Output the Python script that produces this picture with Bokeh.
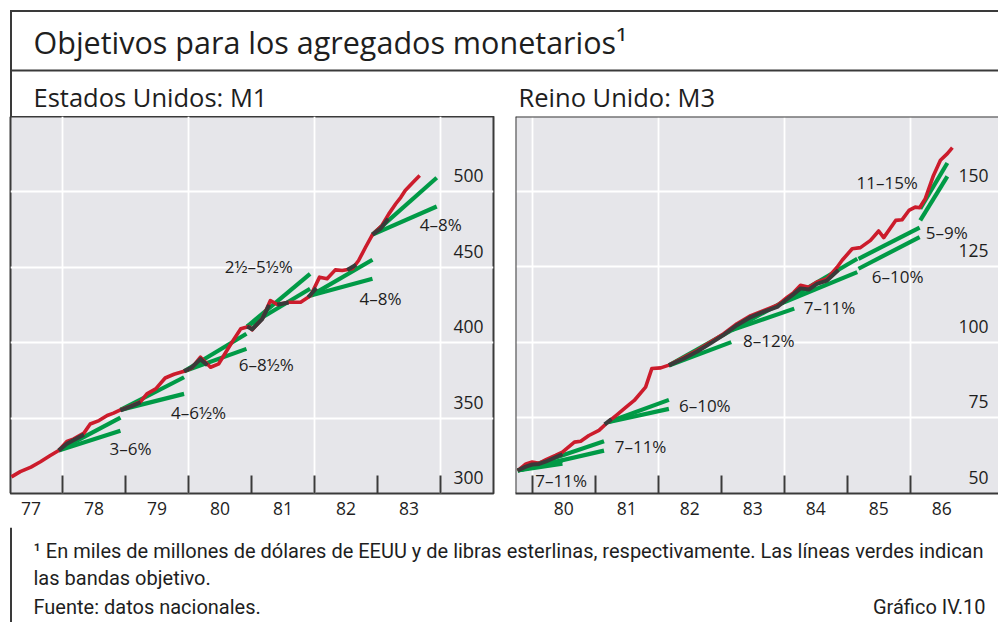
from bokeh.plotting import figure
from bokeh.models import Range1d, FixedTicker, Grid, Span
from bokeh.layouts import column, row
from bokeh.core.properties import value
from bokeh.embed import file_html
from bokeh.resources import INLINE

# ---------------- data: United States M1 (bn US$) ----------------
us_year = [1977.19, 1977.33, 1977.50, 1977.65, 1977.80, 1977.94, 1978.07, 1978.18, 1978.34, 1978.44,
           1978.58, 1978.71, 1978.81, 1978.92, 1979.08, 1979.24, 1979.34, 1979.48, 1979.63, 1979.77,
           1979.93, 1980.05, 1980.19, 1980.35, 1980.48, 1980.69, 1980.83, 1980.96, 1981.01, 1981.17,
           1981.30, 1981.41, 1981.59, 1981.78, 1981.94, 1982.08, 1982.20, 1982.33, 1982.44, 1982.60,
           1982.70, 1982.81, 1982.92, 1983.07, 1983.18, 1983.29, 1983.37, 1983.44, 1983.58, 1983.67]
us_m1 = [311.0, 314.5, 317.5, 321.0, 325.0, 328.5, 334.5, 336.2, 340.0, 346.0,
         348.3, 351.7, 353.2, 355.4, 357.8, 360.8, 366.0, 369.3, 376.5, 379.0,
         381.0, 383.0, 390.3, 383.6, 385.9, 400.2, 409.1, 410.6, 408.4, 415.7,
         427.8, 425.2, 426.7, 426.7, 431.1, 443.3, 442.2, 448.1, 447.7, 448.8,
         454.3, 463.1, 471.5, 477.5, 485.2, 491.9, 496.2, 500.7, 506.8, 510.6]

us_dark_x = [[1977.94, 1978.07, 1978.18, 1978.34],
             [1978.92, 1979.08, 1979.24],
             [1979.93, 1980.05, 1980.19, 1980.30],
             [1980.93, 1981.01, 1981.17, 1981.28],
             [1981.41, 1981.59],
             [1981.90, 1982.03],
             [1982.52, 1982.66],
             [1982.92, 1983.05, 1983.17]]
us_dark_y = [[328.5, 333.0, 335.5, 339.0],
             [355.0, 357.5, 360.3],
             [381.0, 383.5, 389.0, 385.0],
             [410.6, 408.8, 415.5, 425.0],
             [425.0, 426.5],
             [430.0, 436.0],
             [448.0, 451.5],
             [471.5, 475.5, 482.0]]

# target bands (start year, start level, end year, end level)
us_t_x0 = [1977.94, 1977.94, 1978.92, 1978.92, 1979.93, 1979.93, 1980.93, 1980.93, 1981.94, 1981.94, 1982.92, 1982.92]
us_t_y0 = [328.5, 328.5, 355.4, 355.4, 381.0, 381.0, 410.6, 410.6, 431.1, 431.1, 471.5, 471.5]
us_t_x1 = [1978.92, 1978.92, 1979.93, 1979.93, 1980.92, 1980.92, 1981.93, 1981.93, 1982.92, 1982.92, 1983.94, 1983.94]
us_t_y1 = [350.3, 341.5, 377.0, 366.0, 405.8, 395.8, 445.5, 435.6, 454.8, 442.2, 509.1, 490.1]

us_lab_txt = ["3–6%", "4–6½%", "6–8½%", "2½–5½%", "4–8%", "4–8%"]
us_lab_x = [1979.08, 1980.16, 1981.235, 1981.116, 1983.048, 1984.005]
us_lab_y = [329.6, 353.6, 385.6, 450.5, 429.3, 478.0]

us_yticks = [300, 350, 400, 450, 500]
us_ygrid = [350, 400, 450, 500]
us_years = [1977, 1978, 1979, 1980, 1981, 1982, 1983]
us_year_labels = ["77", "78", "79", "80", "81", "82", "83"]
us_bounds = [1978, 1979, 1980, 1981, 1982, 1983, 1984]
us_xgrid = [1978, 1980, 1982, 1984]

# ---------------- data: United Kingdom M3 (bn £) ----------------
uk_year = [1979.77, 1979.90, 1980.00, 1980.11, 1980.22, 1980.37, 1980.48, 1980.67, 1980.77, 1980.90,
           1981.06, 1981.20, 1981.33, 1981.49, 1981.62, 1981.80, 1981.90, 1982.04, 1982.17, 1982.41,
           1982.62, 1982.83, 1983.04, 1983.25, 1983.47, 1983.68, 1983.89, 1984.05, 1984.15, 1984.26,
           1984.39, 1984.52, 1984.68, 1984.84, 1984.92, 1985.08, 1985.21, 1985.37, 1985.50, 1985.58,
           1985.77, 1985.87, 1985.98, 1986.08, 1986.15, 1986.24, 1986.37, 1986.48, 1986.59, 1986.67]
uk_m3 = [57.6, 59.8, 60.4, 60.0, 61.2, 62.6, 63.7, 67.0, 67.3, 69.2,
         70.9, 73.6, 75.8, 78.6, 80.8, 85.2, 91.4, 91.6, 92.5, 95.1,
         97.4, 100.1, 102.9, 106.2, 108.9, 110.6, 112.3, 115.0, 116.5, 118.9,
         118.3, 120.0, 121.1, 124.9, 127.2, 131.0, 131.4, 133.8, 136.9, 134.7,
         140.4, 140.6, 143.7, 144.8, 144.6, 147.6, 155.3, 160.3, 162.5, 164.5]

uk_dark_x = [[1979.77, 1979.90, 1980.00, 1980.11, 1980.22, 1980.37, 1980.48],
             [1981.15, 1981.26],
             [1982.17, 1982.41, 1982.62, 1982.83, 1983.04, 1983.25, 1983.47, 1983.68, 1983.89,
              1984.05, 1984.15, 1984.26, 1984.39, 1984.52, 1984.68, 1984.86]]
uk_dark_y = [[57.6, 58.9, 59.6, 59.8, 60.6, 62.0, 63.0],
             [72.9, 74.6],
             [92.4, 94.7, 97.0, 99.7, 102.5, 105.7, 108.4, 110.2, 111.8,
              114.4, 116.0, 117.9, 117.5, 119.4, 120.5, 124.0]]

uk_t_x0 = [1979.77, 1979.77, 1979.77, 1979.77, 1981.20, 1981.20, 1982.17, 1982.17, 1983.16, 1983.16,
           1983.94, 1983.94, 1985.18, 1985.18, 1986.16, 1986.16]
uk_t_y0 = [57.6, 57.6, 57.6, 57.6, 73.6, 73.6, 92.4, 92.4, 104.0, 104.0,
           112.8, 112.8, 127.7, 124.4, 144.3, 140.4]
uk_t_x1 = [1980.48, 1980.48, 1981.14, 1981.14, 1982.17, 1982.17, 1983.16, 1983.16, 1984.16, 1984.16,
           1985.16, 1985.16, 1986.15, 1986.15, 1986.59, 1986.59]
uk_t_y1 = [60.9, 59.9, 67.3, 64.2, 81.0, 78.0, 104.0, 100.1, 115.4, 111.2,
           127.7, 123.3, 138.0, 134.9, 159.4, 155.0]

uk_lab_txt = ["7–11%", "7–11%", "6–10%", "8–12%", "7–11%", "6–10%", "5–9%", "11–15%"]
uk_lab_x = [1980.46, 1981.72, 1982.74, 1983.756, 1984.72, 1985.80, 1986.58, 1985.635]
uk_lab_y = [54.2, 65.5, 79.0, 100.6, 111.7, 121.9, 136.5, 152.9]

uk_yticks = [50, 75, 100, 125, 150]
uk_ygrid = [75, 100, 125, 150]
uk_years = [1980, 1981, 1982, 1983, 1984, 1985, 1986]
uk_year_labels = ["80", "81", "82", "83", "84", "85", "86"]
uk_bounds = [1980, 1981, 1982, 1983, 1984, 1985, 1986]
uk_xgrid = [1980, 1982, 1984, 1986]

# ---------------- texts ----------------
title_txt = "Objetivos para los agregados monetarios¹"
sub_left = "Estados Unidos: M1"
sub_right = "Reino Unido: M3"
foot1 = "¹ En miles de millones de dólares de EEUU y de libras esterlinas, respectivamente. Las líneas verdes indican"
foot2 = "las bandas objetivo."
foot3 = "Fuente: datos nacionales."
foot4 = "Gráfico IV.10"

# ---------------- style ----------------
FONT = "Open Sans"
FOOT_FONT = "Roboto"
BG = "#E6E6EA"
RED = "#CC1C2C"
GREEN = "#009A46"
DARK = "#3A3A3A"
TXT = "#1E1E1E"
FRAME = "#3A3A3A"

TOTAL_W = 998
HDR_H = 116
PAN_H = 411
FTR_H = 95
LEFT_PAD = 10


def panel(width, mb_left, mb_right, xr, yr, years, ylabels, bounds, xgrid, ygrid, yticks,
          sx, sy, dx, dy, tx0, ty0, tx1, ty1, lx, ly, ltxt, open_right=False):
    p = figure(width=width, height=PAN_H, x_range=Range1d(*xr), y_range=Range1d(*yr),
               toolbar_location=None, output_backend="svg", title_location=None,
               y_axis_location=None,
               min_border_left=mb_left, min_border_right=mb_right,
               min_border_top=0, min_border_bottom=34,
               background_fill_color=BG, border_fill_color="white",
               outline_line_color=None if open_right else FRAME, outline_line_width=2)
    p.center = [r for r in p.center if not isinstance(r, Grid)]
    p.add_layout(Grid(dimension=0, ticker=FixedTicker(ticks=xgrid),
                      grid_line_color="white", grid_line_width=1.8))
    p.add_layout(Grid(dimension=1, ticker=FixedTicker(ticks=ygrid),
                      grid_line_color="white", grid_line_width=1.8))

    ax = p.xaxis[0]
    mids = [y + 0.5 for y in years]
    ax.ticker = FixedTicker(ticks=mids, minor_ticks=bounds)
    ax.major_label_overrides = {m: lab for m, lab in zip(mids, ylabels)}
    ax.major_tick_line_color = None
    ax.major_tick_in = 0
    ax.major_tick_out = 0
    ax.minor_tick_line_color = FRAME
    ax.minor_tick_line_width = 2
    ax.minor_tick_in = 18
    ax.minor_tick_out = 0
    ax.axis_line_color = FRAME if open_right else None
    ax.axis_line_width = 2
    ax.major_label_text_font = FONT
    ax.major_label_text_font_size = "17.5px"
    ax.major_label_text_color = TXT
    ax.major_label_standoff = 8

    if open_right:
        # frame drawn on top and left only; the panel runs on past the page edge
        p.add_layout(Span(location=yr[1], dimension="width", line_color=FRAME, line_width=2))
        p.add_layout(Span(location=xr[0], dimension="height", line_color=FRAME, line_width=2))

    p.segment(x0=tx0, y0=ty0, x1=tx1, y1=ty1, line_color=GREEN, line_width=4.2, line_cap="butt")
    p.line(sx, sy, line_color=RED, line_width=3.6, line_join="round")
    p.multi_line(dx, dy, line_color=DARK, line_width=4, line_join="round")

    p.text(x=lx, y=ly, text=ltxt, text_align="center", text_baseline="middle",
           text_font=value(FONT), text_font_size="17px", text_color=TXT)
    p.text(x=[xr[1]] * len(yticks), y=yticks, text=[str(v) for v in yticks],
           x_offset=-10, y_offset=-16, text_align="right", text_baseline="middle",
           text_font=value(FONT), text_font_size="17.5px", text_color=TXT)
    return p


left = panel(497, 0, 14, (1977.175, 1984.841), (300, 549.7), us_years, us_year_labels, us_bounds,
             us_xgrid, us_ygrid, us_yticks, us_year, us_m1, us_dark_x, us_dark_y,
             us_t_x0, us_t_y0, us_t_x1, us_t_y1, us_lab_x, us_lab_y, us_lab_txt)
right = panel(491, 8, 0, (1979.735, 1987.402), (50, 174.8), uk_years, uk_year_labels, uk_bounds,
              uk_xgrid, uk_ygrid, uk_yticks, uk_year, uk_m3, uk_dark_x, uk_dark_y,
              uk_t_x0, uk_t_y0, uk_t_x1, uk_t_y1, uk_lab_x, uk_lab_y, uk_lab_txt, open_right=True)


def blank(width, height):
    p = figure(width=width, height=height, x_range=Range1d(0, width), y_range=Range1d(height, 0),
               toolbar_location=None, output_backend="svg", title_location=None,
               x_axis_location=None, y_axis_location=None, min_border=0,
               min_border_left=0, min_border_right=0, min_border_top=0, min_border_bottom=0,
               background_fill_color="white", border_fill_color="white", outline_line_color=None)
    p.grid.visible = False
    return p


# header: outer frame top, title, separator, subtitles
hdr = blank(TOTAL_W, HDR_H)
hdr.segment(x0=[9.5, 10.5, 9.5], y0=[10.5, 10.5, 70], x1=[TOTAL_W, 10.5, TOTAL_W], y1=[10.5, HDR_H, 70],
            line_color=FRAME, line_width=2)
hdr.text(x=[33], y=[41], text=[title_txt], text_font=value(FONT), text_font_size="30.5px",
         text_baseline="middle", text_color=TXT)
hdr.text(x=[33, 518], y=[96, 96], text=[sub_left, sub_right], text_font=value(FONT),
         text_font_size="25.5px", text_baseline="middle", text_color=TXT)

# left outer frame strip next to the panels
strip = blank(LEFT_PAD, PAN_H)
strip.segment(x0=[10], y0=[0], x1=[10], y1=[PAN_H], line_color=FRAME, line_width=2)

# footer
ftr = blank(TOTAL_W, FTR_H)
ftr.segment(x0=[10.5], y0=[0], x1=[10.5], y1=[FTR_H], line_color=FRAME, line_width=2)
ftr.text(x=[33, 33, 33], y=[23, 50, 79], text=[foot1, foot2, foot3], text_font=value(FOOT_FONT),
         text_font_size="20px", text_baseline="middle", text_color=TXT)
ftr.text(x=[985], y=[79], text=[foot4], text_font=value(FOOT_FONT), text_font_size="20px",
         text_baseline="middle", text_align="right", text_color=TXT)

layout = column(hdr, row(strip, left, right, spacing=0), ftr, spacing=0)

open("out.html", "w").write(file_html(layout, INLINE))
